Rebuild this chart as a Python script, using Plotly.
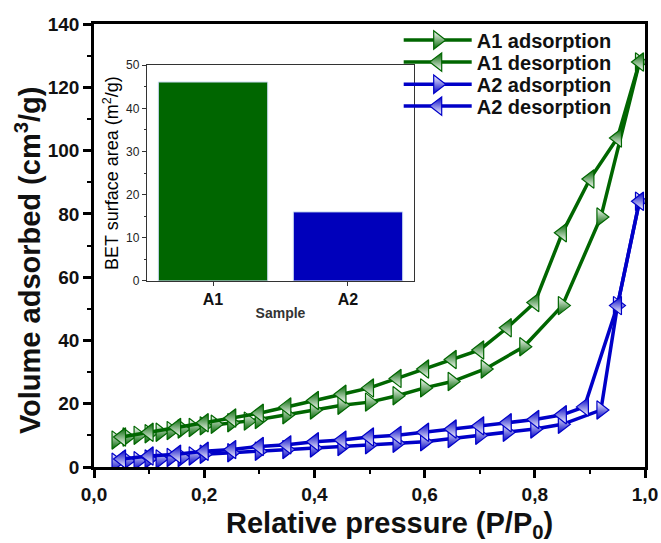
import plotly.graph_objects as go

# ---------------- data ----------------
a1_ads_x = [0.04, 0.06, 0.08, 0.10, 0.12, 0.14, 0.16, 0.18, 0.20, 0.22, 0.25, 0.28, 0.30, 0.35, 0.40,
            0.45, 0.50, 0.55, 0.60, 0.65, 0.71, 0.78, 0.85, 0.92, 0.99]
a1_ads_y = [8.5, 9.5, 10.0, 10.5, 11.0, 11.5, 12.0, 12.5, 13.0, 13.5, 14.0, 14.5, 15.0, 16.5, 18.0,
            19.5, 20.5, 22.5, 25.0, 27.0, 31.0, 38.0, 51.0, 79.0, 128.0]
a1_des_x = [0.99, 0.95, 0.90, 0.85, 0.80, 0.75, 0.70, 0.65, 0.60, 0.55, 0.50, 0.45, 0.40, 0.35,
            0.30, 0.25, 0.20, 0.15, 0.10, 0.05]
a1_des_y = [128.0, 104.0, 91.0, 74.0, 52.0, 44.0, 37.0, 34.0, 31.0, 28.0, 25.0, 23.0, 21.0, 19.0,
            17.0, 15.5, 14.0, 12.5, 11.0, 9.5]
a2_ads_x = [0.04, 0.06, 0.08, 0.10, 0.12, 0.14, 0.16, 0.18, 0.20, 0.25, 0.30, 0.35, 0.40, 0.45,
            0.50, 0.55, 0.60, 0.65, 0.70, 0.75, 0.80, 0.85, 0.92, 0.95, 0.99]
a2_ads_y = [1.5, 2.0, 2.0, 2.5, 2.5, 3.0, 3.0, 3.5, 4.0, 4.5, 5.0, 5.5, 6.0, 6.5,
            7.0, 7.5, 8.0, 9.0, 10.0, 11.0, 12.0, 13.5, 18.0, 51.0, 84.0]
a2_des_x = [0.99, 0.95, 0.89, 0.85, 0.80, 0.75, 0.70, 0.65, 0.60, 0.55, 0.50, 0.45, 0.40, 0.35,
            0.30, 0.25, 0.20, 0.15, 0.10, 0.05]
a2_des_y = [84.0, 51.0, 19.0, 16.5, 15.0, 14.0, 13.0, 12.0, 11.0, 10.0, 9.5, 8.5, 8.0, 7.0,
            6.5, 5.5, 5.0, 4.0, 3.5, 2.5]

bet_samples = ["A1", "A2"]
bet_area = [46.1, 16.0]

x_ticks = [0.0, 0.2, 0.4, 0.6, 0.8, 1.0]
y_ticks = [0, 20, 40, 60, 80, 100, 120, 140]

GREEN = "#006600"
BLUE = "#0000C8"
FONT = "Liberation Sans"
TXT = "#111111"

fig = go.Figure()


def iso(name, xs, ys, color, symbol, top_color, bottom_color, legend):
    fig.add_trace(go.Scatter(
        x=xs, y=ys, name=name, mode="lines+markers", legend=legend,
        line=dict(color=color, width=3.5),
        marker=dict(symbol=symbol, size=16, color=top_color,
                    gradient=dict(type="vertical", color=bottom_color),
                    line=dict(color=color, width=1.2)),
    ))


iso("A1 adsorption", a1_ads_x, a1_ads_y, GREEN, "triangle-right", "white", GREEN, "legend")
iso("A1 desorption", a1_des_x, a1_des_y, GREEN, "triangle-left", GREEN, "white", "legend2")
iso("A2 adsorption", a2_ads_x, a2_ads_y, BLUE, "triangle-right", "white", BLUE, "legend3")
iso("A2 desorption", a2_des_x, a2_des_y, BLUE, "triangle-left", BLUE, "white", "legend4")

fig.add_trace(go.Bar(
    x=bet_samples, y=bet_area, xaxis="x2", yaxis="y2", showlegend=False,
    marker=dict(color=[GREEN, "#0000BB"], line=dict(color="#c8d8f0", width=1)),
    width=0.81,
))


def leg(yc):
    return dict(x=0.553, y=yc, xanchor="left", yanchor="middle",
                bgcolor="rgba(0,0,0,0)", borderwidth=0, itemwidth=68,
                font=dict(family=FONT, size=20, weight="bold", color=TXT))


fig.update_layout(
    width=661, height=543,
    margin=dict(l=94, r=16, t=24, b=76),
    paper_bgcolor="white", plot_bgcolor="white",
    separators=",.",
    font=dict(family=FONT, color=TXT),
    showlegend=True,
    legend=leg(0.9637), legend2=leg(0.914), legend3=leg(0.864), legend4=leg(0.8147),
    xaxis=dict(
        range=[0, 1.0], tickvals=x_ticks, tickformat=".1f", automargin=False,
        showline=True, linecolor="black", linewidth=2.5, mirror=True,
        ticks="outside", ticklen=8, tickwidth=2.5, tickcolor="black",
        minor=dict(dtick=0.1, ticks="outside", ticklen=4, tickwidth=2, tickcolor="black"),
        showgrid=False, zeroline=False,
        tickfont=dict(family=FONT, size=19, weight="bold", color=TXT),
    ),
    yaxis=dict(
        range=[0, 140], tickvals=y_ticks, automargin=False,
        showline=True, linecolor="black", linewidth=2.5, mirror=True,
        ticks="outside", ticklen=8, tickwidth=2.5, tickcolor="black",
        minor=dict(dtick=10, ticks="outside", ticklen=4, tickwidth=2, tickcolor="black"),
        showgrid=False, zeroline=False,
        tickfont=dict(family=FONT, size=19, weight="bold", color=TXT),
    ),
    xaxis2=dict(
        domain=[0.096, 0.581], anchor="y2", range=[-0.49, 1.49], automargin=False,
        showline=True, linecolor="#333333", linewidth=1.2, mirror=True,
        ticks="outside", ticklen=4, tickwidth=1, tickcolor="#333333",
        showgrid=False, zeroline=False,
        tickfont=dict(family=FONT, size=16, weight="bold", color="#111111"),
        title=dict(text="Sample", standoff=0,
                   font=dict(family=FONT, size=14, weight="bold", color="#333333")),
    ),
    yaxis2=dict(
        domain=[0.420, 0.907], anchor="x2", range=[0, 50], dtick=10, automargin=False,
        showline=True, linecolor="#333333", linewidth=1.2, mirror=True,
        ticks="outside", ticklen=4, tickwidth=1, tickcolor="#333333",
        minor=dict(dtick=5, ticks="outside", ticklen=2, tickwidth=1, tickcolor="#333333"),
        showgrid=False, zeroline=False,
        tickfont=dict(family=FONT, size=12, color="#222222"),
        title=dict(text="BET surface area (m<sup>2</sup>/g)", standoff=2,
                   font=dict(family=FONT, size=18, color="#000000")),
    ),
    annotations=[
        dict(text="Relative pressure (P/P<sub>0</sub>)", xref="paper", yref="paper",
             x=0.537, y=-0.1317, xanchor="center", yanchor="middle", showarrow=False,
             font=dict(family=FONT, size=29, weight="bold", color=TXT)),
        dict(text="Volume adsorbed (cm<sup>3</sup>/g)", xref="paper", yref="paper",
             x=-0.1198, y=0.467, xanchor="center", yanchor="middle", showarrow=False,
             textangle=-90,
             font=dict(family=FONT, size=29, weight="bold", color=TXT)),
    ],
)

fig.write_html("out.html")
